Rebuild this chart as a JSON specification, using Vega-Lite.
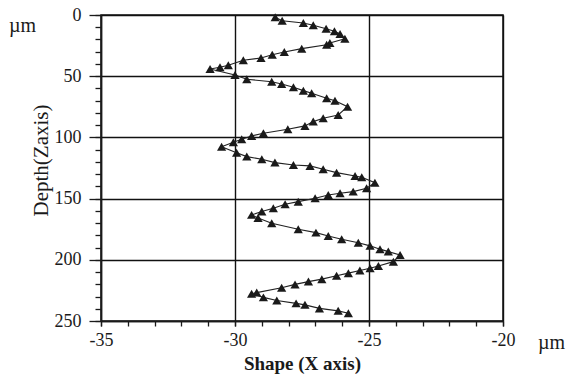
{
  "$schema": "https://vega.github.io/schema/vega-lite/v6.json",
  "width": 402,
  "height": 306,
  "autosize": "none",
  "padding": {"left": 101, "top": 15, "right": 66, "bottom": 54},
  "background": "white",
  "config": {
    "view": {"stroke": "#111", "strokeWidth": 1.5},
    "font": "Liberation Serif",
    "axis": {"labelFont": "Liberation Serif", "titleFont": "Liberation Serif", "labelColor": "#1a1a1a", "titleColor": "#1a1a1a", "tickColor": "#1a1a1a", "domainColor": "#1a1a1a", "gridColor": "#111", "gridOpacity": 1, "gridWidth": 1.4, "domainWidth": 1.5, "tickWidth": 1.3}
  },
  "data": {"values": [
    {"i":1,"x":-28.5,"y":1.9},{"i":2,"x":-28.24,"y":4.7},{"i":3,"x":-27.45,"y":6.5},{"i":4,"x":-27.08,"y":8.4},{"i":5,"x":-26.6,"y":11.2},{"i":6,"x":-26.29,"y":13.3},{"i":7,"x":-26.08,"y":15.5},{"i":8,"x":-25.9,"y":19.4},{"i":9,"x":-26.46,"y":22.9},{"i":10,"x":-26.58,"y":24.3},
    {"i":11,"x":-27.51,"y":27.5},{"i":12,"x":-28.16,"y":30.2},{"i":13,"x":-28.61,"y":32.4},{"i":14,"x":-29.03,"y":35.1},{"i":15,"x":-29.69,"y":37.0},{"i":16,"x":-30.25,"y":41.1},{"i":17,"x":-30.56,"y":42.7},{"i":18,"x":-30.93,"y":44.1},{"i":19,"x":-30.0,"y":49.0},{"i":20,"x":-29.56,"y":52.5},
    {"i":21,"x":-28.63,"y":54.5},{"i":22,"x":-28.26,"y":56.3},{"i":23,"x":-27.82,"y":59.0},{"i":24,"x":-27.45,"y":61.8},{"i":25,"x":-27.14,"y":63.9},{"i":26,"x":-26.58,"y":68.0},{"i":27,"x":-26.27,"y":70.0},{"i":28,"x":-25.8,"y":74.9},{"i":29,"x":-26.15,"y":81.7},{"i":30,"x":-26.71,"y":84.4},
    {"i":31,"x":-27.08,"y":87.1},{"i":32,"x":-27.39,"y":90.6},{"i":33,"x":-28.03,"y":93.3},{"i":34,"x":-28.94,"y":96.6},{"i":35,"x":-29.38,"y":98.8},{"i":36,"x":-29.75,"y":101.5},{"i":37,"x":-30.06,"y":104.0},{"i":38,"x":-30.5,"y":107.6},{"i":39,"x":-29.94,"y":112.5},{"i":40,"x":-29.56,"y":115.7},
    {"i":41,"x":-29.0,"y":117.8},{"i":42,"x":-28.51,"y":120.6},{"i":43,"x":-27.82,"y":122.5},{"i":44,"x":-27.2,"y":123.3},{"i":45,"x":-26.71,"y":126.0},{"i":46,"x":-26.21,"y":128.8},{"i":47,"x":-25.52,"y":131.5},{"i":48,"x":-25.27,"y":132.5},{"i":49,"x":-24.78,"y":137.0},{"i":50,"x":-25.09,"y":141.5},
    {"i":51,"x":-25.59,"y":144.3},{"i":52,"x":-26.08,"y":145.6},{"i":53,"x":-26.52,"y":147.0},{"i":54,"x":-27.01,"y":149.7},{"i":55,"x":-27.64,"y":152.5},{"i":56,"x":-28.13,"y":154.6},{"i":57,"x":-28.57,"y":157.9},{"i":58,"x":-29.0,"y":160.6},{"i":59,"x":-29.38,"y":163.3},{"i":60,"x":-29.14,"y":165.8},
    {"i":61,"x":-28.63,"y":170.1},{"i":62,"x":-27.64,"y":175.0},{"i":63,"x":-26.98,"y":177.8},{"i":64,"x":-26.52,"y":180.5},{"i":65,"x":-26.02,"y":183.2},{"i":66,"x":-25.4,"y":186.0},{"i":67,"x":-24.96,"y":188.6},{"i":68,"x":-24.59,"y":191.3},{"i":69,"x":-24.28,"y":193.3},{"i":70,"x":-23.84,"y":196.0},
    {"i":71,"x":-24.09,"y":201.5},{"i":72,"x":-24.65,"y":205.0},{"i":73,"x":-24.96,"y":206.9},{"i":74,"x":-25.34,"y":208.8},{"i":75,"x":-25.77,"y":210.9},{"i":76,"x":-26.21,"y":213.1},{"i":77,"x":-26.76,"y":215.8},{"i":78,"x":-27.26,"y":217.8},{"i":79,"x":-27.76,"y":220.1},{"i":80,"x":-28.26,"y":222.9},
    {"i":81,"x":-29.19,"y":226.8},{"i":82,"x":-29.38,"y":227.8},{"i":83,"x":-28.94,"y":230.7},{"i":84,"x":-28.44,"y":233.2},{"i":85,"x":-27.72,"y":235.6},{"i":86,"x":-27.39,"y":236.8},{"i":87,"x":-26.85,"y":239.7},{"i":88,"x":-26.15,"y":241.7},{"i":89,"x":-25.77,"y":243.6}
  ]},
  "layer": [
    {
      "mark": {"type": "line", "color": "#222", "strokeWidth": 1.1},
      "encoding": {
        "x": {"field": "x", "type": "quantitative", "scale": {"domain": [-35, -20], "nice": false, "zero": false},
          "axis": {"orient": "bottom", "values": [-35, -30, -25, -20], "grid": true, "tickSize": 5, "labelFontSize": 18, "labelPadding": 5, "labelFlush": false,
            "labelExpr": "replace(datum.label, '−', '-')",
            "title": "Shape (X axis)", "titleFontSize": 19, "titleFontWeight": "bold", "titleX": 201, "titleY": 33, "titleAlign": "center", "titleBaseline": "top"}},
        "y": {"field": "y", "type": "quantitative", "scale": {"domain": [0, 250], "nice": false, "reverse": true},
          "axis": {"orient": "left", "values": [0, 50, 100, 150, 200, 250], "grid": true, "tickSize": 12, "labelFontSize": 18, "labelPadding": 8, "labelFlush": false,
            "title": "Depth(Zaxis)", "titleFontSize": 21, "titleFontWeight": "normal", "titleAngle": 270, "titleX": -60, "titleY": 145, "titleAlign": "center", "titleBaseline": "middle"}},
        "order": {"field": "i", "type": "quantitative"}
      }
    },
    {
      "mark": {"type": "point", "shape": "triangle-up", "filled": true, "color": "#1a1a1a", "opacity": 1, "size": 85},
      "encoding": {
        "x": {"field": "x", "type": "quantitative", "scale": {"domain": [-35, -20], "nice": false, "zero": false}, "axis": null},
        "y": {"field": "y", "type": "quantitative", "scale": {"domain": [0, 250], "nice": false, "reverse": true}, "axis": null}
      }
    },
    {
      "mark": {"type": "point", "opacity": 0},
      "encoding": {
        "x": {"field": "x", "type": "quantitative", "scale": {"domain": [-35, -20], "nice": false, "zero": false},
          "axis": {"orient": "bottom", "values": [-35,-34,-33,-32,-31,-30,-29,-28,-27,-26,-25,-24,-23,-22,-21,-20], "grid": false, "labels": false, "domain": false, "tickSize": 5,
            "title": "µm", "titleFontSize": 20, "titleFontWeight": "normal", "titleX": 450, "titleY": 11, "titleAlign": "center", "titleBaseline": "top"}},
        "y": {"field": "y", "type": "quantitative", "scale": {"domain": [0, 250], "nice": false, "reverse": true},
          "axis": {"orient": "left", "values": [0,10,20,30,40,50,60,70,80,90,100,110,120,130,140,150,160,170,180,190,200,210,220,230,240,250], "grid": false, "labels": false, "domain": false, "tickSize": 6,
            "title": "µm", "titleFontSize": 20, "titleFontWeight": "normal", "titleAngle": 0, "titleX": -79, "titleY": 10, "titleAlign": "center", "titleBaseline": "middle"}}
      }
    }
  ],
  "resolve": {"axis": {"x": "independent", "y": "independent"}}
}
